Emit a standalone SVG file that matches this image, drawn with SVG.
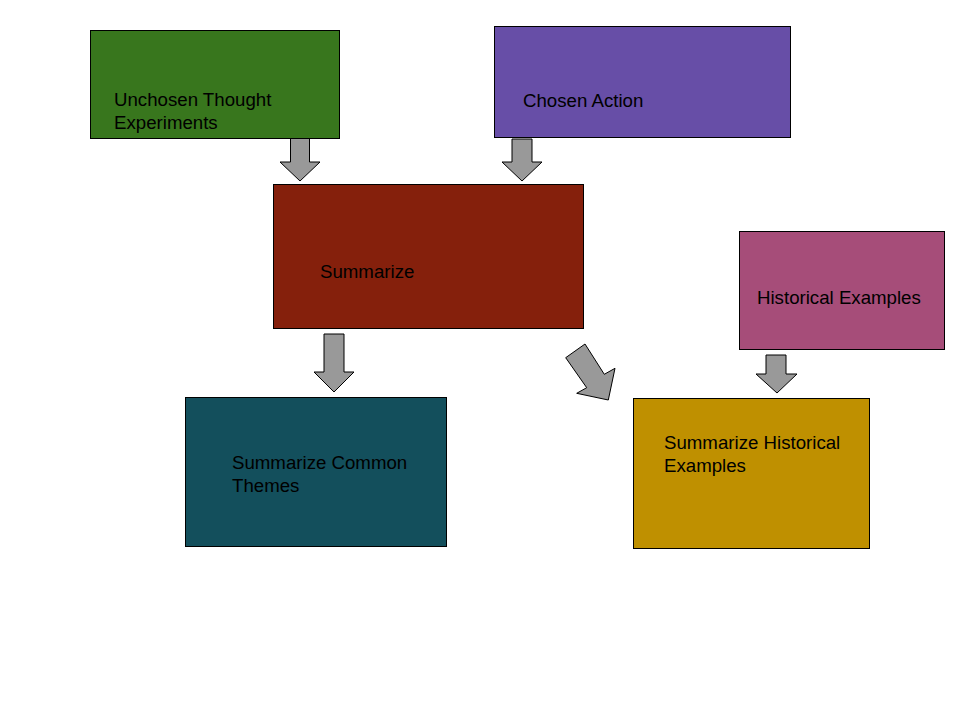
<svg xmlns="http://www.w3.org/2000/svg" width="960" height="720" viewBox="0 0 960 720">
<style>
.box{stroke:#000;stroke-width:1}
.lbl{font-family:"Liberation Sans",Arial,sans-serif;font-size:18.67px;fill:#000}
.arr{fill:#999;stroke:#000;stroke-width:1;stroke-linejoin:miter}
</style>
<rect width="960" height="720" fill="#fff"/>
<g id="connectors">
<polygon class="arr" points="290.5,138 309.5,138 309.5,162 320,162 300,181 280,162 290.5,162"/>
<polygon class="arr" points="512,139 532,139 532,162 542,162 522,181 502,162 512,162"/>
<polygon class="arr" points="324,334 344,334 344,372 354,372 334,392 314,372 324,372"/>
<polygon class="arr" points="585,344 604.3,374.3 615,368.3 608.3,400 576.7,393.3 586.7,387.7 565.7,357.7"/>
<polygon class="arr" points="766,355 786,355 786,374 797,374 777,393 756,374 766,374"/>
</g>
<g id="unchosen">
<rect class="box" x="90.5" y="30.5" width="249" height="108" fill="#38761d"/>
<text class="lbl" x="114" y="106">Unchosen Thought</text>
<text class="lbl" x="114" y="128.5">Experiments</text>
</g>
<g id="chosen">
<rect class="box" x="494.5" y="26.5" width="296" height="111" fill="#674ea7"/>
<text class="lbl" x="523" y="107">Chosen Action</text>
</g>
<g id="summarize">
<rect class="box" x="273.5" y="184.5" width="310" height="144" fill="#85200c"/>
<text class="lbl" x="320" y="278">Summarize</text>
</g>
<g id="historical">
<rect class="box" x="739.5" y="231.5" width="205" height="118" fill="#a64d79"/>
<text class="lbl" x="757" y="304">Historical Examples</text>
</g>
<g id="common">
<rect class="box" x="185.5" y="397.5" width="261" height="149" fill="#134f5c"/>
<text class="lbl" x="232" y="469">Summarize Common</text>
<text class="lbl" x="232" y="491.5">Themes</text>
</g>
<g id="sumhist">
<rect class="box" x="633.5" y="398.5" width="236" height="150" fill="#bf9000"/>
<text class="lbl" x="664" y="449">Summarize Historical</text>
<text class="lbl" x="664" y="471.5">Examples</text>
</g>
</svg>
